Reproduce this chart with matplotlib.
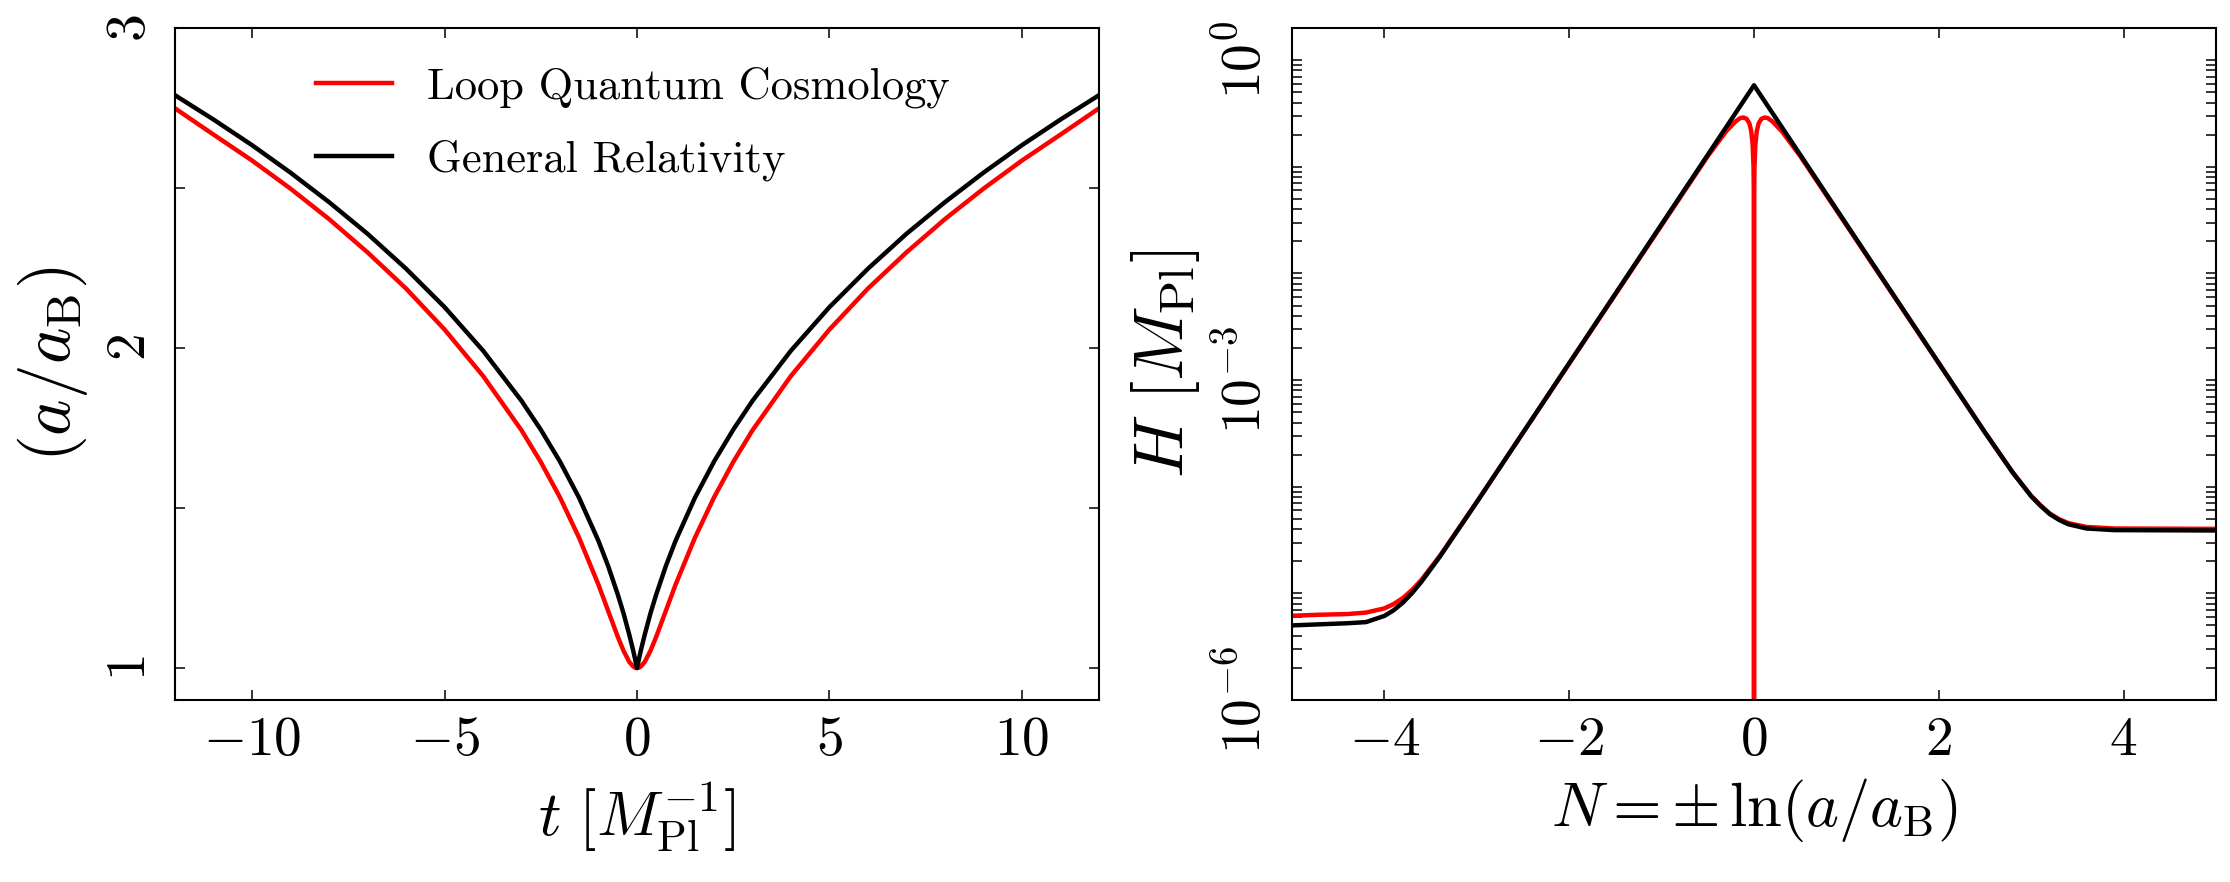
import numpy as np
import matplotlib
matplotlib.use('Agg')
import matplotlib.pyplot as plt
from matplotlib.ticker import LogLocator, NullFormatter, MultipleLocator

plt.rcParams['font.family'] = 'serif'
plt.rcParams['font.serif'] = ['cmr10']
plt.rcParams['mathtext.fontset'] = 'cm'
plt.rcParams['axes.formatter.use_mathtext'] = True

# left panel: scale factor a/a_B against cosmic time t
t = [-12, -11, -10, -9, -8, -7, -6, -5, -4, -3, -2.5, -2, -1.5, -1, -0.75, -0.5, -0.35, -0.2, -0.1, -0.05, 0,
     0.05, 0.1, 0.2, 0.35, 0.5, 0.75, 1, 1.5, 2, 2.5, 3, 4, 5, 6, 7, 8, 9, 10, 11, 12]
a_lqc = [2.749, 2.667, 2.586, 2.498, 2.403, 2.299, 2.186, 2.058, 1.913, 1.743, 1.644, 1.533, 1.406, 1.260,
         1.179, 1.098, 1.054, 1.019, 1.005, 1.001, 1.000,
         1.001, 1.005, 1.019, 1.054, 1.098, 1.179, 1.260, 1.406, 1.533, 1.644, 1.743, 1.913, 2.058, 2.186,
         2.299, 2.403, 2.498, 2.586, 2.667, 2.749]
a_gr = [2.790, 2.714, 2.634, 2.548, 2.456, 2.357, 2.248, 2.128, 1.992, 1.835, 1.745, 1.645, 1.531, 1.397,
        1.319, 1.230, 1.171, 1.104, 1.055, 1.028, 1.000,
        1.028, 1.055, 1.104, 1.171, 1.230, 1.319, 1.397, 1.531, 1.645, 1.745, 1.835, 1.992, 2.128, 2.248,
        2.357, 2.456, 2.548, 2.634, 2.714, 2.790]

# right panel: Hubble rate against number of e-folds N
N_gr = [-5, -4.7, -4.4, -4.2, -4.0, -3.9, -3.8, -3.7, -3.6, -3.4, -3.0, 0,
        2.5, 2.8, 3.0, 3.1, 3.2, 3.3, 3.4, 3.6, 3.9, 5]
H_gr = [5.01e-6, 5.13e-6, 5.25e-6, 5.38e-6, 6.15e-6, 6.95e-6, 8.20e-6, 1.01e-5, 1.285e-5, 2.213e-5,
        7.19e-5, 0.581,
        3.23e-4, 1.361e-4, 8.15e-5, 6.65e-5, 5.55e-5, 4.90e-5, 4.45e-5, 4.06e-5, 3.92e-5, 3.89e-5]
N_lqc = [-5, -4.7, -4.4, -4.2, -4.0, -3.9, -3.8, -3.7, -3.6, -3.4, -3.0, -0.5, -0.3, -0.2, -0.15, -0.115,
         -0.08, -0.05, -0.03, -0.015, -0.005, -0.001, 0, 0.001, 0.005, 0.015, 0.03, 0.05, 0.08, 0.115,
         0.15, 0.2, 0.3, 0.5, 2.5, 2.8, 3.0, 3.1, 3.2, 3.3, 3.4, 3.6, 3.9, 5]
H_lqc = [6.17e-6, 6.31e-6, 6.40e-6, 6.61e-6, 7.24e-6, 7.95e-6, 9.06e-6, 1.08e-5, 1.34e-5, 2.25e-5,
         7.21e-5, 0.126, 0.216, 0.266, 0.286, 0.290,
         0.282, 0.255, 0.216, 0.163, 0.0984, 0.0447, 1e-8, 0.0447, 0.0984, 0.163, 0.216, 0.255, 0.282, 0.290,
         0.286, 0.266, 0.216, 0.126, 3.23e-4, 1.36e-4, 8.22e-5, 6.72e-5, 5.62e-5, 4.98e-5, 4.57e-5,
         4.20e-5, 4.06e-5, 4.03e-5]

fig = plt.figure(figsize=(22.3, 8.82), dpi=100)
ax1 = fig.add_axes([0.0785, 0.2063, 0.4143, 0.7619])
ax2 = fig.add_axes([0.5794, 0.2063, 0.4143, 0.7619])

lw = 3.2
ax1.plot(t, a_lqc, color='red', lw=lw, label='Loop Quantum Cosmology')
ax1.plot(t, a_gr, color='black', lw=lw, label='General Relativity')
ax1.set_xlim(-12, 12)
ax1.set_ylim(0.9, 3)
ax1.set_xticks([-10, -5, 0, 5, 10])
ax1.set_yticks([1, 2, 3])
ax1.yaxis.set_minor_locator(MultipleLocator(0.5))

ax2.plot(N_lqc, H_lqc, color='red', lw=lw)
ax2.plot(N_gr, H_gr, color='black', lw=lw)
ax2.set_yscale('log')
ax2.set_xlim(-5, 5)
ax2.set_ylim(1e-6, 2.0)
ax2.set_xticks([-4, -2, 0, 2, 4])
ax2.set_yticks([1e-6, 1e-3, 1e0])
ax2.yaxis.set_minor_locator(LogLocator(base=10, subs=np.arange(1, 10) * 1.0, numticks=30))
ax2.yaxis.set_minor_formatter(NullFormatter())

for ax in (ax1, ax2):
    for s in ax.spines.values():
        s.set_linewidth(1.5)
    ax.tick_params(which='both', direction='in', top=True, right=True, length=7, width=1.1)
    ax.tick_params(axis='x', labelsize=40, pad=12)
    ax.tick_params(axis='y', labelsize=40, pad=14, labelrotation=90)
    for lab in ax.get_yticklabels():
        lab.set_va('center')

ax1.set_xlabel(r'$t\ [M_{\rm Pl}^{-1}]$', fontsize=45)
ax1.set_ylabel(r'$(a/a_{\rm B})$', fontsize=50)
ax2.set_xlabel(r'$N = \pm\,\ln(a/a_{\rm B})$', fontsize=45)
ax2.set_ylabel(r'$H\ [M_{\rm Pl}]$', fontsize=50)
ax1.xaxis.set_label_coords(0.5, -0.12)
ax2.xaxis.set_label_coords(0.5, -0.113)
ax1.yaxis.set_label_coords(-0.092, 0.5)
ax2.yaxis.set_label_coords(-0.097, 0.5)

ax1.legend(loc='upper left', bbox_to_anchor=(0.1526, 0.943), frameon=False, fontsize=32,
           handlelength=1.7, handletextpad=0.8, labelspacing=0.71, borderpad=0, borderaxespad=0)

fig.savefig('out.png', dpi=100)
